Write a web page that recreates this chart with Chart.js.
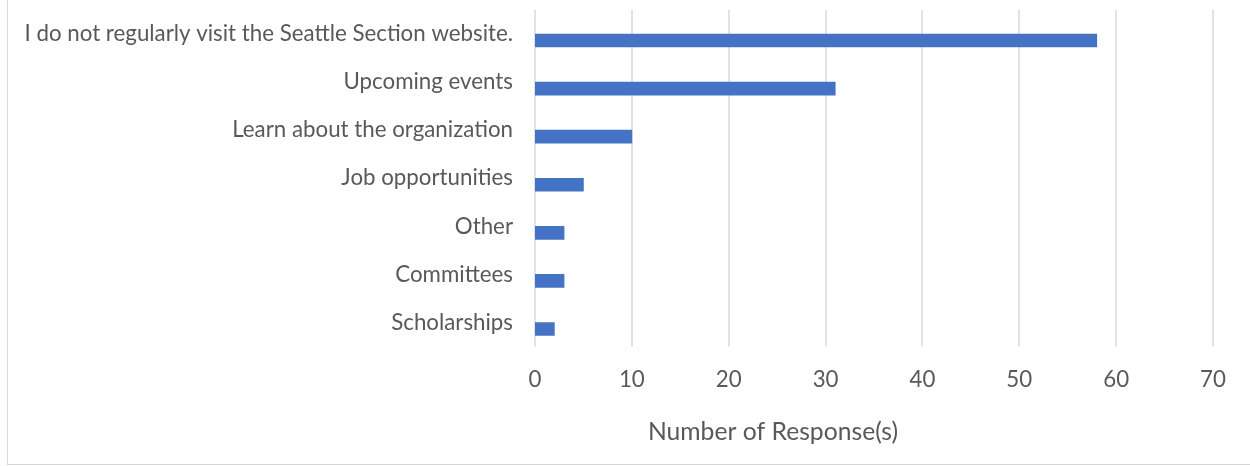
<!DOCTYPE html>
<html>
<head>
<meta charset="utf-8">
<script src="https://cdn.jsdelivr.net/npm/chart.js@4"></script>
<style>
  html, body { margin: 0; padding: 0; background: #fff; }
  #wrap { position: relative; width: 1250px; height: 466px; }
  #frame { position: absolute; left: 7px; top: 0; width: 1243px; height: 464px;
           border-left: 1px solid #d9d9d9; border-bottom: 1px solid #d9d9d9; }
  canvas { position: absolute; left: 0; top: 0; }
</style>
</head>
<body>
<div id="wrap">
  <div id="frame"></div>
  <canvas id="myChart" width="1250" height="466"></canvas>
</div>
<script>
const categories = [
  'I do not regularly visit the Seattle Section website.',
  'Upcoming events',
  'Learn about the organization',
  'Job opportunities',
  'Other',
  'Committees',
  'Scholarships'
];
const responses = [58, 31, 10, 5, 3, 3, 2];
const xTicks = [0, 10, 20, 30, 40, 50, 60, 70];
const xTitle = 'Number of Response(s)';

const textColor = '#595959';
const fontFamily = 'Lato, "Open Sans", sans-serif';
const fontSize = 22.3;

// excel draws the gridlines a bit above the bar bands
const gridShift = 6.5;
const gridLines = {
    id: 'gridLines',
    beforeDatasetsDraw(chart) {
        const ctx = chart.ctx;
        const area = chart.chartArea;
        const x = chart.scales.x;
        ctx.save();
        ctx.strokeStyle = '#d9d9d9';
        ctx.lineWidth = 1.5;
        xTicks.forEach(v => {
            const px = Math.round(x.getPixelForValue(v));
            ctx.beginPath();
            ctx.moveTo(px, area.top - gridShift);
            ctx.lineTo(px, area.bottom - gridShift);
            ctx.stroke();
        });
        ctx.restore();
    }
};

// axis title sits left of the plot centre in the original
const axisTitle = {
    id: 'axisTitle',
    afterDraw(chart) {
        const ctx = chart.ctx;
        ctx.save();
        ctx.fillStyle = textColor;
        ctx.font = '24.7px ' + fontFamily;
        ctx.textAlign = 'center';
        ctx.textBaseline = 'middle';
        ctx.fillText(xTitle, 773, 432);
        ctx.restore();
    }
};

window.onload = () => {
    const ctx = document.getElementById('myChart').getContext('2d');
    new Chart(ctx, {
        type: 'bar',
        data: {
            labels: categories,
            datasets: [{
                data: responses,
                backgroundColor: '#4472C4',
                borderWidth: 0,
                barThickness: 13
            }]
        },
        options: {
            indexAxis: 'y',
            responsive: false,
            animation: false,
            layout: { padding: { left: 0, top: 16.5, right: 37, bottom: 0 } },
            plugins: {
                legend: { display: false },
                tooltip: { enabled: false }
            },
            scales: {
                x: {
                    min: 0,
                    max: 70,
                    afterBuildTicks: (scale) => { scale.ticks = xTicks.map(v => ({ value: v })); },
                    afterFit: (scale) => { scale.height = 113; },
                    grid: { display: false, drawTicks: false },
                    border: { display: false },
                    ticks: {
                        color: textColor,
                        padding: 13,
                        font: { family: fontFamily, size: fontSize }
                    }
                },
                y: {
                    afterFit: (scale) => {
                        scale.width = 535;
                        scale.paddingTop = 0;
                        scale.paddingBottom = 0;
                    },
                    grid: { display: false, drawTicks: false },
                    border: { display: false },
                    ticks: {
                        color: textColor,
                        padding: 22,
                        labelOffset: -6.5,
                        font: { family: fontFamily, size: fontSize }
                    }
                }
            }
        },
        plugins: [gridLines, axisTitle]
    });
};
</script>
</body>
</html>
